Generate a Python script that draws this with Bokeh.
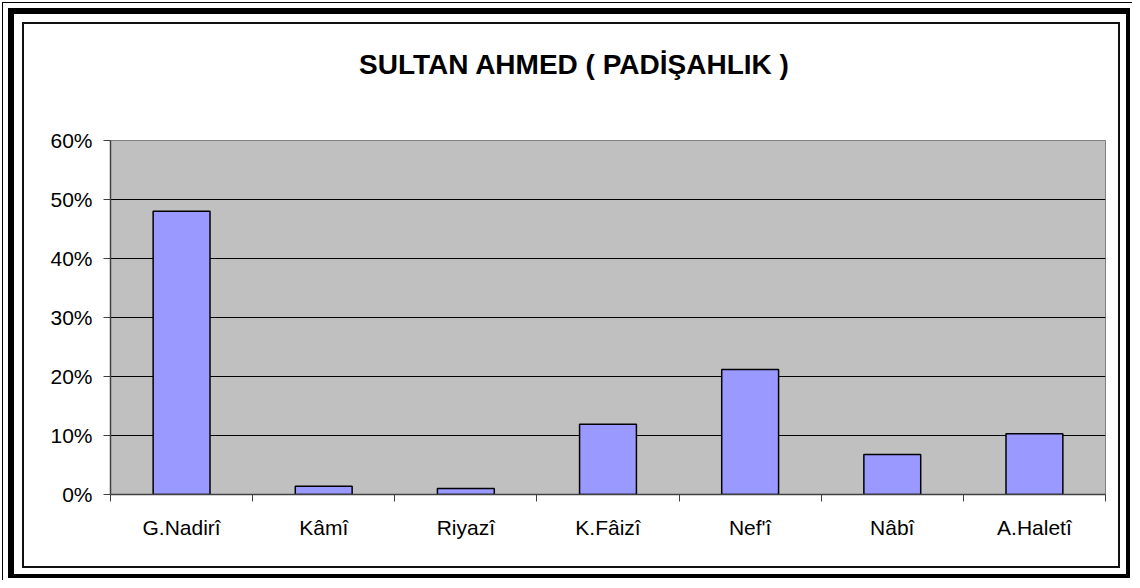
from bokeh.plotting import figure
from bokeh.models import (Range1d, FixedTicker, NumeralTickFormatter, LinearAxis,
                          ColumnDataSource)
from bokeh.embed import file_html
from bokeh.resources import INLINE

title_text = "SULTAN AHMED ( PADİŞAHLIK )"
categories = ["G.Nadirî", "Kâmî", "Riyazî", "K.Fâizî", "Nef'î", "Nâbî", "A.Haletî"]
shares = [0.480, 0.014, 0.010, 0.119, 0.212, 0.068, 0.103]
y_ticks = [0.0, 0.1, 0.2, 0.3, 0.4, 0.5, 0.6]

FONT = "Liberation Sans"
W, H = 1132, 580

centers = [i + 0.5 for i in range(len(categories))]
bounds = list(range(len(categories) + 1))

p = figure(width=W, height=H, output_backend="svg", toolbar_location=None,
           x_range=Range1d(0, len(categories)), y_range=Range1d(0, y_ticks[-1]),
           min_border_left=110, min_border_right=27, min_border_top=140,
           min_border_bottom=86)
p.background_fill_color = "#C0C0C0"
p.border_fill_color = None
p.outline_line_color = "#808080"
p.outline_line_width = 1

# page frame: thin outer line, thick black frame, inner chart frame
p.styles = {
    "background-color": "white",
    "box-shadow": ("inset 2px 2px 0 0 white, inset 3px 3px 0 0 black, "
                   "inset 3px 3px 0 5px white, inset 4px 4px 0 10px black, "
                   "inset 5px 5px 0 17px white, inset 5px 5px 0 19px #111111"),
}

src = ColumnDataSource(dict(x=centers, share=shares, cat=categories))
p.vbar(x="x", top="share", width=0.4, source=src, fill_color="#9999FF",
       line_color="black", line_width=1.5)

# x axis: ticks between categories, labels under each category
xa = p.xaxis[0]
xa.ticker = FixedTicker(ticks=centers, minor_ticks=bounds)
xa.major_label_overrides = {c: cat for c, cat in zip(centers, categories)}
xa.major_tick_out = 0
xa.major_tick_in = 0
xa.minor_tick_out = 7
xa.minor_tick_in = 0
xa.minor_tick_line_color = "#404040"
xa.axis_line_color = "#404040"
xa.axis_line_width = 1.5
xa.major_label_standoff = 14
xa.major_label_text_font = FONT
xa.major_label_text_font_size = "21px"
xa.major_label_text_color = "black"
p.xgrid.grid_line_color = None

ya = p.yaxis[0]
ya.ticker = FixedTicker(ticks=y_ticks)
ya.formatter = NumeralTickFormatter(format="0%")
ya.minor_tick_line_color = None
ya.major_tick_out = 7
ya.major_tick_in = 0
ya.major_tick_line_color = "#404040"
ya.axis_line_color = "#404040"
ya.axis_line_width = 1.5
ya.major_label_standoff = 11
ya.major_label_text_font = FONT
ya.major_label_text_font_size = "21px"
ya.major_label_text_color = "black"
p.ygrid.grid_line_color = "black"
p.ygrid.grid_line_width = 1

# chart title, placed above the plot area
title_x = 3.264
top_axis = LinearAxis(ticker=FixedTicker(ticks=[title_x]),
                      major_label_overrides={title_x: title_text})
top_axis.axis_line_color = None
top_axis.major_tick_line_color = None
top_axis.minor_tick_line_color = None
top_axis.major_tick_out = 0
top_axis.major_tick_in = 0
top_axis.minor_tick_out = 0
top_axis.minor_tick_in = 0
top_axis.major_label_standoff = 61
top_axis.major_label_text_font = FONT
top_axis.major_label_text_font_style = "bold"
top_axis.major_label_text_font_size = "28px"
top_axis.major_label_text_color = "black"
p.add_layout(top_axis, "above")

open("out.html", "w").write(file_html(p, INLINE))
